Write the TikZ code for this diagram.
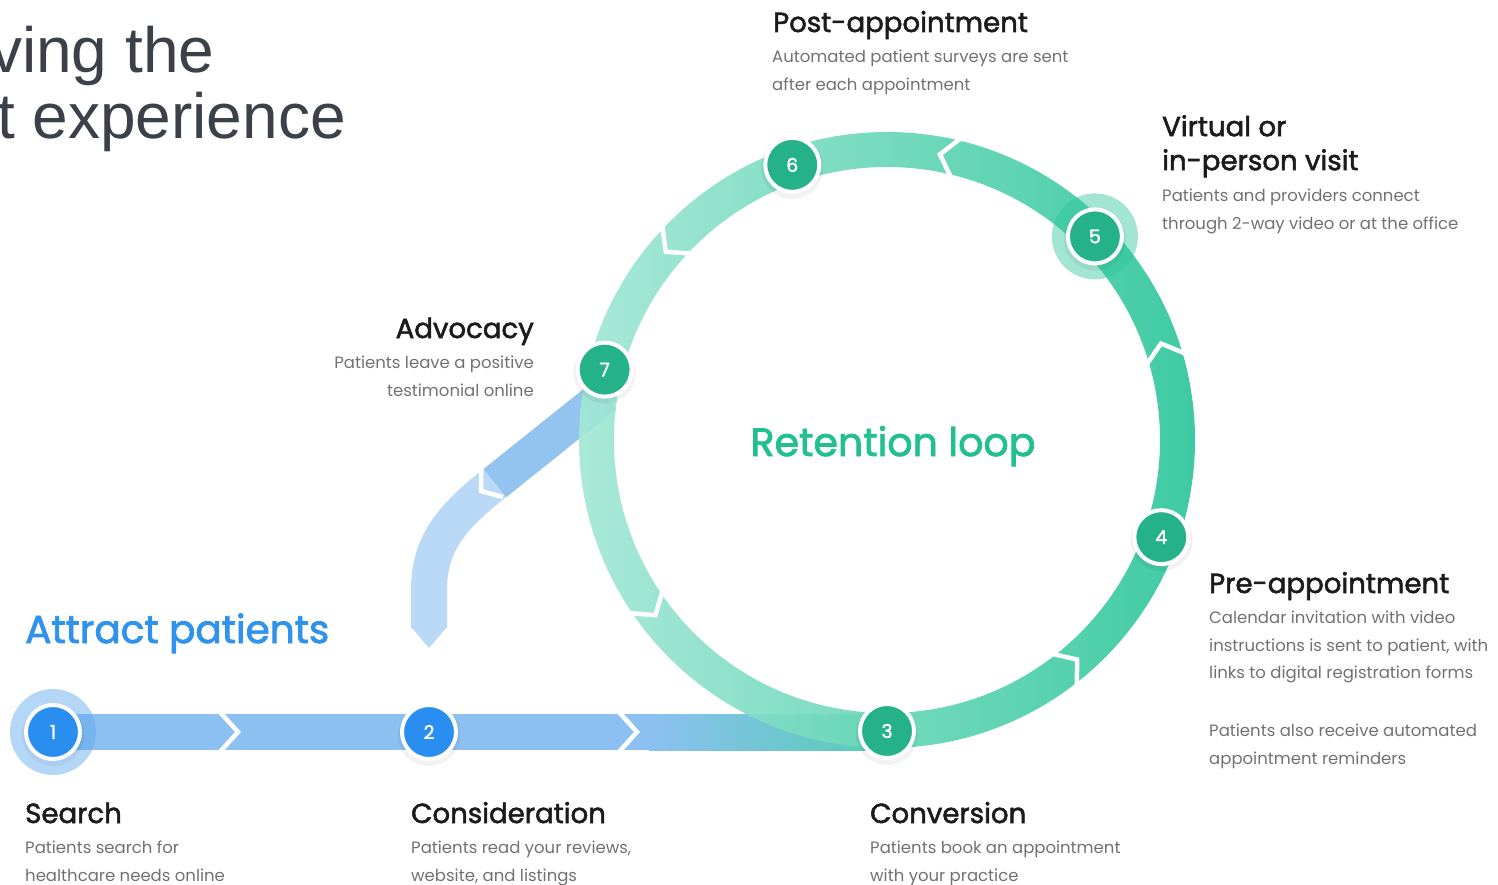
\documentclass[tikz,border=0pt]{standalone}
\usepackage{fontspec}
\setmainfont{Poppins}
\newfontfamily\headfont{Poppins}[FakeBold=2]
\newfontfamily\numfont{Poppins}[FakeBold=1.6]
\newfontfamily\titlefont{Liberation Sans}
\usetikzlibrary{calc}

\definecolor{titlegray}{HTML}{3B4049}
\definecolor{headink}{HTML}{1B1B1B}
\definecolor{bodyink}{HTML}{6F7175}
\definecolor{loopteal}{HTML}{22C08F}
\definecolor{attractblue}{HTML}{2F93EC}
\definecolor{nodeteal}{HTML}{25B288}
\definecolor{nodeblue}{HTML}{2A8EF0}
\definecolor{ringlight}{HTML}{A3E7D5}
\definecolor{ringmid}{HTML}{6CD9BC}
\definecolor{ringdark}{HTML}{2EC69B}
\definecolor{bandblue}{HTML}{8CC0F0}
\definecolor{bandteal}{HTML}{56CDB4}
\definecolor{branchlight}{HTML}{BAD9F6}
\definecolor{branchmid}{HTML}{93C4F0}
\definecolor{halo1}{HTML}{5AA6EE}
\definecolor{halo5}{HTML}{2EC69B}

\tikzset{
  stepnode/.style={circle, draw=white, line width=4pt, minimum size=54pt,
    inner sep=0pt, text=white, font=\numfont\fontsize{19}{19}\selectfont},
  tealnode/.style={stepnode, fill=nodeteal},
  bluenode/.style={stepnode, fill=nodeblue},
  notch/.style={draw=white, line width=4.5pt, line join=miter},
  heading/.style={anchor=base west, inner sep=0pt, text=headink,
    font=\headfont\fontsize{27.6}{34}\selectfont},
  body/.style={anchor=north west, inner sep=0pt, text=bodyink, align=left,
    font=\fontsize{16.5}{27.5}\selectfont},
  titletext/.style={anchor=base west, inner sep=0pt, text=titlegray,
    font=\titlefont\fontsize{64}{66}\selectfont},
}

\begin{document}
\begin{tikzpicture}[x=1pt,y=-1pt]
\useasboundingbox (0,0) rectangle (1498,885);

% centre of the retention loop
\coordinate (C) at (887,440);

% title, running past the left edge of the page
\node[titletext] (title1) at (-10,73) {ving the};
\node[titletext] (title2) at (-3,139) {t experience};

% horizontal attraction band
\fill[bandblue] (53,714) rectangle (650,750);
\shade[left color=bandblue, right color=bandteal] (649,714) rectangle (887,750);
\draw[notch] (219,711) -- (238,732) -- (219,753);
\draw[notch] (618,711) -- (637,732) -- (618,753);

% branch from advocacy back to consideration
\draw[branchlight, line width=36pt] (605,395) -- (495,483)
  .. controls (450,518) and (429,545) .. (429,590) -- (429,628);
\fill[branchlight] (411,627) -- (429,648) -- (447,627) -- cycle;
\draw[branchmid, line width=36pt] (605,395) -- (495,483);
\draw[notch] (481,469) -- (481,491) -- (503,497);

% retention loop ring
\shade[left color=ringlight, middle color=ringmid, right color=ringdark,
       even odd rule, opacity=0.92]
  (C) circle[radius=308] (C) circle[radius=273];

% chevron notches along the ring, pointing in the direction of flow
\foreach \a in {-75.9,-136,-15.8,52.7,146.5}{
  \draw[notch] ($(C)+(\a:268)$) -- ($(C)+({\a-3.6}:290.5)$) -- ($(C)+(\a:313)$);
}

% step positions
\coordinate (p1) at (53,732);
\coordinate (p2) at (429,732);
\coordinate (p3) at ($(C)+(90:291)$);
\coordinate (p4) at ($(C)+(19.5:291)$);
\coordinate (p5) at ($(C)+(-44.4:291)$);
\coordinate (p6) at ($(C)+(-109:291)$);
\coordinate (p7) at ($(C)+(-166:291)$);

% halos on the active steps
\fill[halo1, opacity=0.45] (p1) circle[radius=43];
\fill[halo5, opacity=0.45] (p5) circle[radius=43];

% soft shadows under the step markers
\foreach \p in {p1,p2,p3,p4,p5,p6,p7}{
  \fill[black, opacity=0.05] ([yshift=-3pt]\p) circle[radius=31];
}

% step markers
\node[bluenode] (n1) at (p1) {1};
\node[bluenode] (n2) at (p2) {2};
\node[tealnode] (n3) at (p3) {3};
\node[tealnode] (n4) at (p4) {4};
\node[tealnode] (n5) at (p5) {5};
\node[tealnode] (n6) at (p6) {6};
\node[tealnode] (n7) at (p7) {7};

% section titles
\node[anchor=base, inner sep=0pt, text=loopteal,
      font=\headfont\fontsize{39.5}{42}\selectfont] (loop) at (893,456) {Retention loop};
\node[anchor=base west, inner sep=0pt, text=attractblue,
      font=\headfont\fontsize{39}{42}\selectfont] (attract) at (25,643) {Attract patients};

% step descriptions
\node[heading] (h6) at (773,32) {Post-appointment};
\node[body] (b6) at (772,50) {Automated patient surveys are sent\\after each appointment};

\node[heading, align=left, anchor=north west] (h5) at (1162,115) {Virtual or\\in-person visit};
\node[body] (b5) at (1162,189) {Patients and providers connect\\through 2-way video or at the office};

\node[heading, anchor=base east] (h7) at (534,338) {Advocacy};
\node[body, anchor=north east, align=right] (b7) at (534,356) {Patients leave a positive\\testimonial online};

\node[heading] (h4) at (1209,593) {Pre-appointment};
\node[body] (b4) at (1209,611) {Calendar invitation with video\\instructions is sent to patient, with\\links to digital registration forms};
\node[body] (b4b) at (1209,724) {Patients also receive automated\\appointment reminders};

\node[heading] (h1) at (25,823) {Search};
\node[body] (b1) at (25,841) {Patients search for\\healthcare needs online};

\node[heading] (h2) at (411,823) {Consideration};
\node[body] (b2) at (411,841) {Patients read your reviews,\\website, and listings};

\node[heading] (h3) at (870,823) {Conversion};
\node[body] (b3) at (870,841) {Patients book an appointment\\with your practice};
\end{tikzpicture}
\end{document}
